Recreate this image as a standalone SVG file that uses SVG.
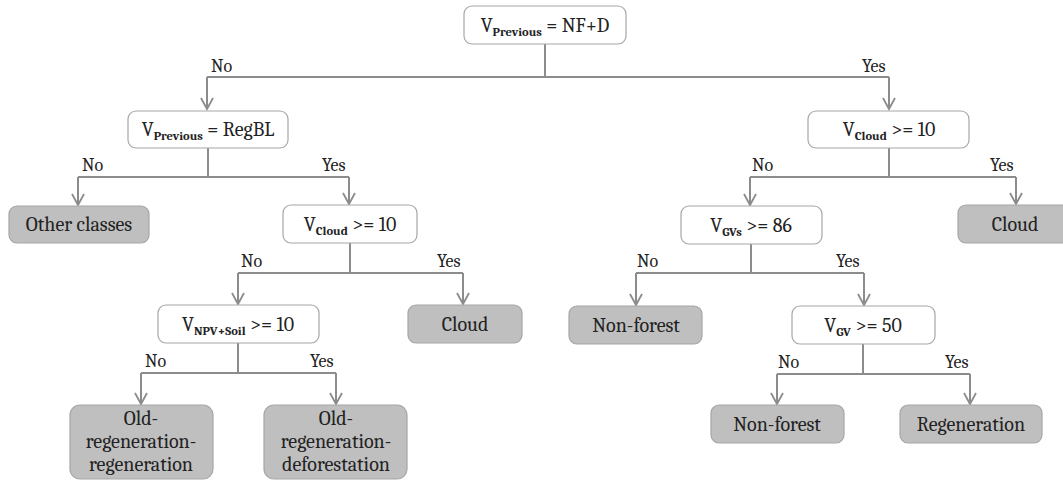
<svg xmlns="http://www.w3.org/2000/svg" width="1063" height="480" viewBox="0 0 1063 480">
  <defs>
    <marker id="chev" markerUnits="userSpaceOnUse" markerWidth="16" markerHeight="16" viewBox="-14 -8 16 16" refX="0" refY="0" orient="auto">
      <path d="M-11,-6 L0,0 L-11,6" fill="none" stroke="#8c8c8c" stroke-width="1.8"/>
    </marker>
    <style>
      .cond { fill: #ffffff; stroke: #a6a6a6; stroke-width: 1.2; }
      .leaf { fill: #bfbfbf; stroke: #a6a6a6; stroke-width: 1.2; }
      .t { font-size: 20px; fill: #222; text-anchor: middle; }
      .sub { font-weight: bold; font-size: 12.5px; }
      .lbl { font-size: 18px; fill: #222; }
      .edge { fill: none; stroke: #8c8c8c; stroke-width: 2; }
      .arr { fill: none; stroke: #8c8c8c; stroke-width: 2; marker-end: url(#chev); }
    </style>
  </defs>

  <g font-family="Caladea, Liberation Serif, serif">
  <!-- connectors -->
  <g id="connectors">
    <!-- root split -->
    <path class="edge" d="M545 44 V77 M207 77 H889"/>
    <path class="arr" d="M207 77 V109"/>
    <path class="arr" d="M889 77 V109"/>
    <!-- RegBL split -->
    <path class="edge" d="M208 148 V177 M78 177 H349"/>
    <path class="arr" d="M78 177 V205"/>
    <path class="arr" d="M349 177 V204"/>
    <!-- left cloud test -->
    <path class="edge" d="M350 243 V273 M238 273 H463"/>
    <path class="arr" d="M238 273 V304"/>
    <path class="arr" d="M463 273 V304"/>
    <!-- NPV+Soil split -->
    <path class="edge" d="M238 343 V373 M141 373 H336"/>
    <path class="arr" d="M141 373 V404"/>
    <path class="arr" d="M336 373 V404"/>
    <!-- right cloud test -->
    <path class="edge" d="M889 148 V177 M750 177 H1016"/>
    <path class="arr" d="M750 177 V205"/>
    <path class="arr" d="M1016 177 V204"/>
    <!-- GVs split -->
    <path class="edge" d="M751 244 V273 M636 273 H864"/>
    <path class="arr" d="M636 273 V305"/>
    <path class="arr" d="M864 273 V305"/>
    <!-- GV split -->
    <path class="edge" d="M863 344 V374 M777 374 H970"/>
    <path class="arr" d="M777 374 V404"/>
    <path class="arr" d="M970 374 V404"/>

    <!-- branch labels -->
    <text class="lbl" x="211" y="72">No</text>
    <text class="lbl" x="862" y="72">Yes</text>
    <text class="lbl" x="82" y="171">No</text>
    <text class="lbl" x="322" y="171">Yes</text>
    <text class="lbl" x="241" y="267">No</text>
    <text class="lbl" x="437" y="267">Yes</text>
    <text class="lbl" x="145" y="367">No</text>
    <text class="lbl" x="310" y="367">Yes</text>
    <text class="lbl" x="752" y="171">No</text>
    <text class="lbl" x="990" y="171">Yes</text>
    <text class="lbl" x="637" y="267">No</text>
    <text class="lbl" x="836" y="267">Yes</text>
    <text class="lbl" x="778" y="368">No</text>
    <text class="lbl" x="945" y="368">Yes</text>
  </g>

  <!-- decision nodes -->
  <g id="n-root">
    <rect class="cond" x="464" y="6" width="162" height="38" rx="8"/>
    <text class="t" x="545" y="32">V<tspan class="sub" dy="4">Previous</tspan><tspan dy="-4"> = NF+D</tspan></text>
  </g>
  <g id="n-regbl">
    <rect class="cond" x="128" y="111" width="160" height="37" rx="8"/>
    <text class="t" x="208" y="136">V<tspan class="sub" dy="4">Previous</tspan><tspan dy="-4"> = RegBL</tspan></text>
  </g>
  <g id="n-cloud-left">
    <rect class="cond" x="283" y="205" width="134" height="38" rx="8"/>
    <text class="t" x="350" y="231">V<tspan class="sub" dy="4">Cloud</tspan><tspan dy="-4"> &gt;= 10</tspan></text>
  </g>
  <g id="n-npvsoil">
    <rect class="cond" x="158" y="305" width="161" height="38" rx="8"/>
    <text class="t" x="238" y="331">V<tspan class="sub" dy="4">NPV+Soil</tspan><tspan dy="-4"> &gt;= 10</tspan></text>
  </g>
  <g id="n-cloud-right">
    <rect class="cond" x="808" y="111" width="161" height="37" rx="8"/>
    <text class="t" x="889" y="136">V<tspan class="sub" dy="4">Cloud</tspan><tspan dy="-4"> &gt;= 10</tspan></text>
  </g>
  <g id="n-gvs">
    <rect class="cond" x="681" y="206" width="141" height="38" rx="8"/>
    <text class="t" x="751" y="232">V<tspan class="sub" dy="4">GVs</tspan><tspan dy="-4"> &gt;= 86</tspan></text>
  </g>
  <g id="n-gv">
    <rect class="cond" x="792" y="306" width="143" height="38" rx="8"/>
    <text class="t" x="863" y="332">V<tspan class="sub" dy="4">GV</tspan><tspan dy="-4"> &gt;= 50</tspan></text>
  </g>

  <!-- class (leaf) nodes -->
  <g id="l-other">
    <rect class="leaf" x="9" y="206" width="140" height="37" rx="8"/>
    <text class="t" x="79" y="231">Other classes</text>
  </g>
  <g id="l-cloud-left">
    <rect class="leaf" x="408" y="305" width="114" height="38" rx="8"/>
    <text class="t" x="465" y="331">Cloud</text>
  </g>
  <g id="l-old-regen">
    <rect class="leaf" x="70" y="405" width="143" height="74" rx="10"/>
    <text class="t" x="141" y="425">Old-</text>
    <text class="t" x="141" y="448">regeneration-</text>
    <text class="t" x="141" y="471">regeneration</text>
  </g>
  <g id="l-old-defor">
    <rect class="leaf" x="264" y="405" width="143" height="74" rx="10"/>
    <text class="t" x="336" y="425">Old-</text>
    <text class="t" x="336" y="448">regeneration-</text>
    <text class="t" x="336" y="471">deforestation</text>
  </g>
  <g id="l-cloud-right">
    <rect class="leaf" x="958" y="205" width="114" height="38" rx="8"/>
    <text class="t" x="1015" y="231">Cloud</text>
  </g>
  <g id="l-nonforest-1">
    <rect class="leaf" x="569" y="306" width="133" height="38" rx="8"/>
    <text class="t" x="636" y="332">Non-forest</text>
  </g>
  <g id="l-nonforest-2">
    <rect class="leaf" x="711" y="405" width="133" height="38" rx="8"/>
    <text class="t" x="777" y="431">Non-forest</text>
  </g>
  <g id="l-regen">
    <rect class="leaf" x="900" y="405" width="142" height="38" rx="8"/>
    <text class="t" x="971" y="431">Regeneration</text>
  </g>
  </g>
</svg>
